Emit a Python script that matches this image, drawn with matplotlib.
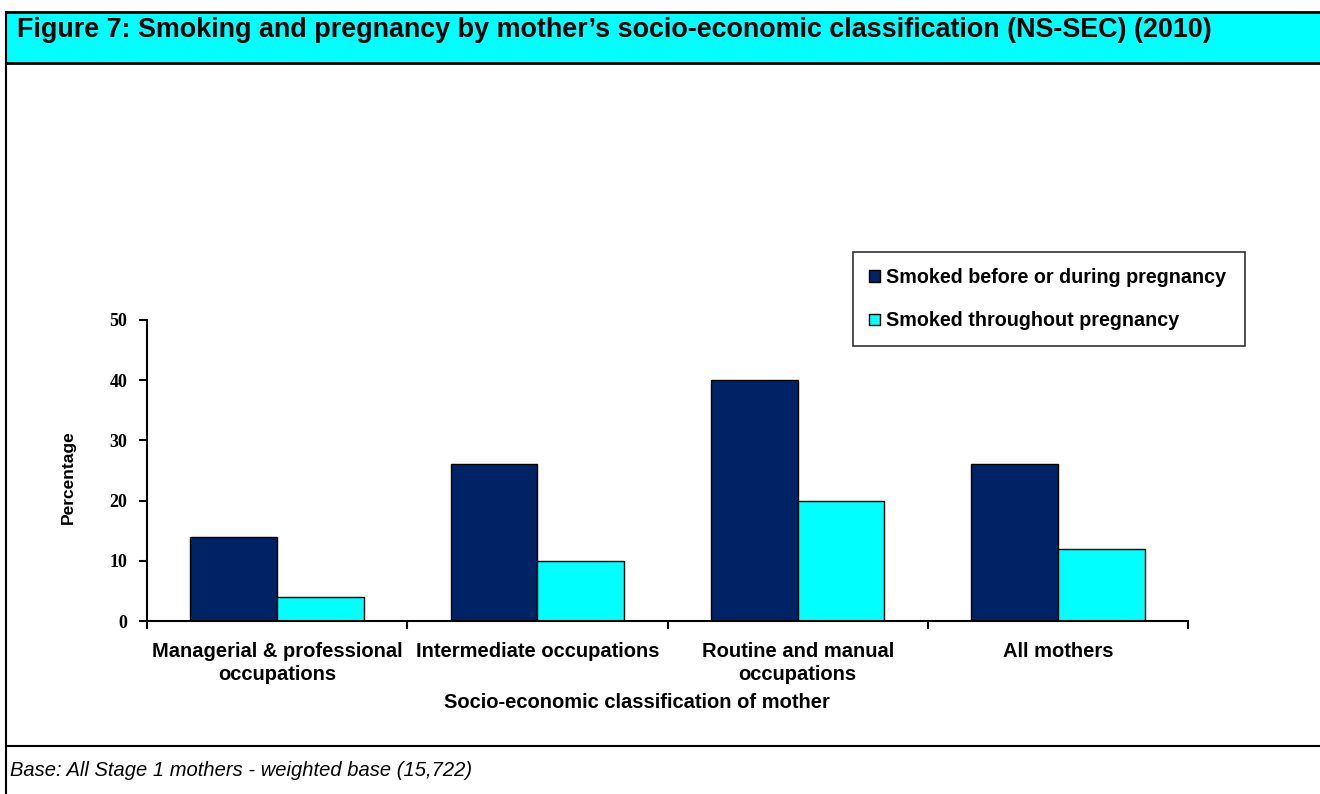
from matplotlib import pyplot as plt
from matplotlib.patches import Rectangle
from matplotlib.lines import Line2D
import numpy as np

categories = ['Managerial & professional\noccupations', 'Intermediate occupations',
              'Routine and manual\noccupations', 'All mothers']
before_during = [14, 26, 40, 26]
throughout = [4, 10, 20, 12]
series_names = ['Smoked before or during pregnancy', 'Smoked throughout pregnancy']
y_ticks = [0, 10, 20, 30, 40, 50]

W, H = 1320, 794
fig = plt.figure(figsize=(W / 100, H / 100), dpi=100)

def fx(px):
    return px / W

def fy(py):
    return 1 - py / H

# title bar and frame lines
fig.patches.append(Rectangle((fx(6), fy(63)), fx(1320) - fx(6), fy(12) - fy(63),
                             transform=fig.transFigure, facecolor='#00FFFF',
                             edgecolor='none', zorder=0))
fig.lines.append(Line2D([fx(6), 1], [fy(12), fy(12)], transform=fig.transFigure, color='black', lw=2))
fig.lines.append(Line2D([fx(6), 1], [fy(63), fy(63)], transform=fig.transFigure, color='black', lw=2))
fig.lines.append(Line2D([fx(6), fx(6)], [fy(12), 0], transform=fig.transFigure, color='black', lw=1.5))
fig.lines.append(Line2D([fx(6), 1], [fy(746), fy(746)], transform=fig.transFigure, color='black', lw=1.5))

fig.text(fx(17), fy(30), 'Figure 7: Smoking and pregnancy by mother\u2019s socio-economic classification (NS-SEC) (2010)',
         fontsize=19.4, fontweight='bold', family=['Liberation Sans Narrow', 'Liberation Sans'],
         va='center', ha='left')
fig.text(fx(10), fy(770), 'Base: All Stage 1 mothers - weighted base (15,722)',
         fontsize=14.5, style='italic', family='Liberation Sans', va='center', ha='left')

ax = fig.add_axes([fx(147), fy(621), fx(1188) - fx(147), fy(320) - fy(621)])

x = np.arange(len(categories))
w = 1 / 3
ax.bar(x - w / 2, before_during, w, color='#002366', edgecolor='black', lw=1, label=series_names[0])
ax.bar(x + w / 2, throughout, w, color='#00FFFF', edgecolor='black', lw=1, label=series_names[1])

ax.set_xlim(-0.5, len(categories) - 0.5)
ax.set_ylim(0, 50)
ax.set_yticks(y_ticks)
ax.set_yticklabels([str(t) for t in y_ticks], family='Liberation Serif', fontweight='bold', fontsize=13)
ax.set_xticks(x)
ax.set_xticklabels(categories, family='Liberation Sans', fontweight='bold', fontsize=14.5, linespacing=1.3)
ax.tick_params(axis='x', length=0, pad=15)
ax.set_xticks(np.arange(len(categories) + 1) - 0.5, minor=True)
ax.tick_params(axis='x', which='minor', length=6, width=1.5, direction='out')
ax.tick_params(axis='y', length=6, width=1.5, direction='out', pad=8)

for s in ['top', 'right']:
    ax.spines[s].set_visible(False)
ax.spines['left'].set_linewidth(1.5)
ax.spines['bottom'].set_linewidth(1.5)

fig.text(fx(68), fy(477), 'Percentage', rotation=90, fontsize=12.5, fontweight='bold',
         family='Liberation Sans', va='center', ha='center')
fig.text(fx(637), fy(703), 'Socio-economic classification of mother', fontsize=14.5,
         fontweight='bold', family='Liberation Sans', va='center', ha='center')

leg = ax.legend(loc='upper left', bbox_to_anchor=(fx(853), fy(342), fx(1245) - fx(853), fy(252) - fy(342)),
                bbox_transform=fig.transFigure, mode='expand', frameon=True, fancybox=False,
                prop={'family': 'Liberation Sans', 'weight': 'bold', 'size': 14.2},
                handlelength=0.55, handleheight=0.55, handletextpad=0.3, labelspacing=1.25,
                borderpad=0.8, borderaxespad=0)
leg.get_frame().set_edgecolor('black')
leg.get_frame().set_linewidth(1.2)

plt.savefig('out.png')
